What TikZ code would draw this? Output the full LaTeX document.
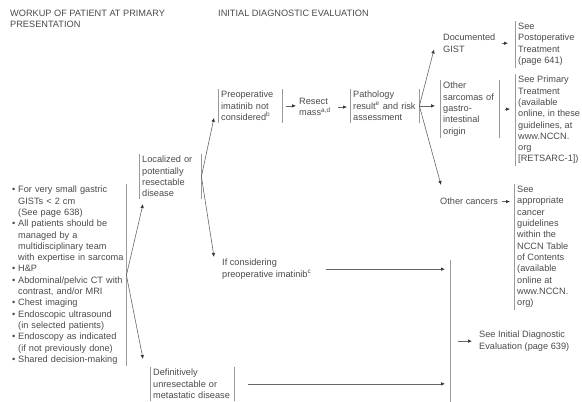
\documentclass[tikz,border=0pt]{standalone}
\usepackage{fontspec}
\setmainfont{Liberation Sans}
\usepackage{xcolor}
\usepackage{tikz}
\usetikzlibrary{arrows.meta}

\definecolor{txtgray}{HTML}{4A4A4A}
\definecolor{bargray}{HTML}{9A9A9A}
\definecolor{arrgray}{HTML}{666666}
\setlength{\parindent}{0pt}
\newcommand{\bitem}{\makebox[6pt][l]{•}}
\newcommand{\bcont}{\hspace*{6pt}}

\begin{document}
\begin{tikzpicture}[x=1pt, y=-1pt,
    every node/.style={anchor=north west, inner xsep=3pt, inner ysep=2pt, align=left,
        font=\fontsize{9.2}{11.3}\selectfont, text=txtgray},
    vbar/.style={draw=bargray, line width=0.7pt},
    arr/.style={draw=arrgray, line width=0.6pt, -{Latex[length=4pt, width=3.5pt, color=black!80]}}]
    \useasboundingbox (0,0) rectangle (582,402);

    \node (H1) at (7,7.5) {WORKUP OF PATIENT AT PRIMARY\\PRESENTATION};
    \node (H2) at (215,7.5) {INITIAL DIAGNOSTIC EVALUATION};

    \node[inner xsep=2pt, text width=112pt] (A) at (10,184) {\bitem For very small gastric\\\bcont GISTs < 2 cm\\\bcont (See page 638)\\\bitem All patients should be\\\bcont managed by a\\\bcont multidisciplinary team\\\bcont with expertise in sarcoma\\\bitem H\&P\\\bitem Abdominal/pelvic CT with\\\bcont contrast, and/or MRI\\\bitem Chest imaging\\\bitem Endoscopic ultrasound\\\bcont (in selected patients)\\\bitem Endoscopy as indicated\\\bcont (if not previously done)\\\bitem Shared decision-making};

    \node[text width=56pt] (L) at (139,154) {Localized or\\potentially\\resectable\\disease};
    \node[text width=58pt] (P) at (218,89) {Preoperative\\imatinib not\\considered\textsuperscript{b}};
    \node (R) at (296,96) {Resect\\mass\textsuperscript{a,d}};
    \node[text width=63pt] (Q) at (350,89) {Pathology\\result\textsuperscript{e} and risk\\assessment};
    \node (G) at (440,32) {Documented\\GIST};
    \node (T) at (515,21) {See\\Postoperative\\Treatment\\(page 641)};
    \node[text width=53pt] (S) at (440,80) {Other\\sarcomas of\\gastro-\\intestinal\\origin};
    \node (U) at (515,74) {See Primary\\Treatment\\(available\\online, in these\\guidelines, at\\www.NCCN.\\org\\{[RETSARC-1])}};
    \node (O) at (437,196) {Other cancers};
    \node (V) at (514,184) {See\\appropriate\\cancer\\guidelines\\within the\\NCCN Table\\of Contents\\(available\\online at\\www.NCCN.\\org)};
    \node (I) at (219,257) {If considering\\preoperative imatinib\textsuperscript{c}};
    \node[text width=78pt] (D) at (150,367) {Definitively\\unresectable or\\metastatic disease};
    \node (E) at (476,329) {See Initial Diagnostic\\Evaluation (page 639)};
    \coordinate (X1) at (450,260);
    \coordinate (X2) at (450,402);

    % side rules of the boxes
    \draw[vbar] (A.north east) -- (A.south east);
    \draw[vbar] (L.north west) -- (L.south west);
    \draw[vbar] (L.north east) -- (L.south east);
    \draw[vbar] (P.north west) -- (P.south west);
    \draw[vbar] (P.north east) -- (P.south east);
    \draw[vbar] (Q.north west) -- (Q.south west);
    \draw[vbar] (Q.north east) -- (Q.south east);
    \draw[vbar] (S.north west) -- (S.south west);
    \draw[vbar] (S.north east) -- (S.south east);
    \draw[vbar] (D.north west) -- (D.south west);
    \draw[vbar] (D.north east) -- (D.south east);
    \draw[vbar] (T.north west) -- (T.south west);
    \draw[vbar] (U.north west) -- (U.south west);
    \draw[vbar] (V.north west) -- (V.south west);
    \draw[vbar] (X1) -- (X2);

    % branches
    \draw[arr] (A.east) -- ([xshift=4pt, yshift=-5pt]L.south west);
    \draw[arr] (A.east) -- ([xshift=-7pt, yshift=8pt]D.north west);
    \draw[arr] (L.east) -- ([xshift=-4pt, yshift=5pt]P.south west);
    \draw[arr] (L.east) -- ([xshift=-5pt]I.north west);
    \draw[arr] (Q.east) -- ([xshift=-6pt, yshift=5pt]G.south west);
    \draw[arr] (Q.east) -- ([xshift=-5pt]Q.east -| S.west);
    \draw[arr] (Q.east) -- ([xshift=4pt, yshift=11pt]O.north west);

    % straight steps
    \draw[arr] ([xshift=4pt]P.east) -- (P.east -| R.west);
    \draw[arr] ([xshift=4pt]R.east) -- ([xshift=-3pt]R.east -| Q.west);
    \draw[arr] ([xshift=3pt]G.east) -- ([xshift=-7pt]G.east -| T.west);
    \draw[arr] ([xshift=6pt]S.east) -- ([xshift=-5pt]S.east -| U.west);
    \draw[arr] ([xshift=1pt]O.east) -- ([xshift=-4pt]O.east -| V.west);
    \draw[arr] ([xshift=11pt]I.east) -- ([xshift=-5pt]I.east -| X1);
    \draw[arr] ([xshift=14pt]D.east) -- ([xshift=-5pt]D.east -| X1);
    \draw[arr] ([xshift=8pt]E.west -| X1) -- ([xshift=-4pt]E.west);
\end{tikzpicture}
\end{document}
